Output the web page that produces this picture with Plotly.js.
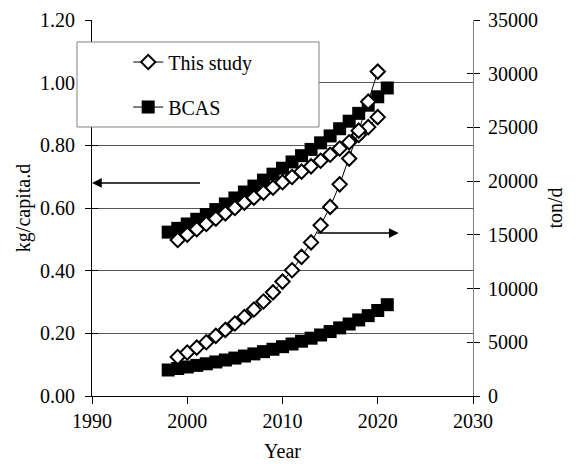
<!DOCTYPE html>
<html>
<head>
<meta charset="utf-8">
<script src="https://cdn.plot.ly/plotly-3.0.1.min.js"></script>
<style>html,body{margin:0;padding:0;background:#fff;}#chart{width:578px;height:468px;}</style>
</head>
<body>
<div id="chart"></div>
<script>
// ---- data ----
const yearsStudy = [1999,2000,2001,2002,2003,2004,2005,2006,2007,2008,2009,2010,2011,2012,2013,2014,2015,2016,2017,2018,2019,2020];
const studyKg = [0.498,0.515,0.532,0.549,0.566,0.583,0.600,0.617,0.633,0.649,0.665,0.682,0.699,0.716,0.733,0.751,0.770,0.790,0.810,0.833,0.858,0.890];
const studyTon = [3630,4050,4500,5000,5600,6150,6750,7350,8050,8800,9650,10650,11700,12950,14300,15900,17600,19700,22100,24700,27400,30200];
const yearsBcas = [1998,1999,2000,2001,2002,2003,2004,2005,2006,2007,2008,2009,2010,2011,2012,2013,2014,2015,2016,2017,2018,2019,2020,2021];
const bcasKg = [0.523,0.535,0.549,0.564,0.579,0.595,0.613,0.632,0.651,0.670,0.689,0.708,0.727,0.747,0.767,0.787,0.808,0.830,0.853,0.877,0.902,0.928,0.955,0.983];
const bcasTon = [2420,2560,2700,2850,3000,3170,3350,3530,3720,3920,4130,4350,4590,4840,5100,5380,5680,6000,6340,6700,7080,7480,7960,8500];
const seriesNames = ['This study','BCAS'];
const leftTitle = 'kg/capita.d';
const rightTitle = 'ton/d';
const xTitle = 'Year';

const FONT = 'Liberation Serif, Times New Roman, serif';
const sqMarker = {symbol:'square', size:13, color:'#000', line:{width:0}};
const diaMarker = {symbol:'diamond', size:11, color:'#fff', line:{width:2, color:'#000'}};
const ln = {color:'#000', width:1};

const traces = [
  {x:yearsBcas, y:bcasKg, yaxis:'y', mode:'lines+markers', name:seriesNames[1], line:ln, marker:sqMarker, showlegend:true, legendgroup:'b', legendrank:2},
  {x:yearsBcas, y:bcasTon, yaxis:'y2', mode:'lines+markers', name:seriesNames[1], line:ln, marker:sqMarker, showlegend:false, legendgroup:'b'},
  {x:yearsStudy, y:studyKg, yaxis:'y', mode:'lines+markers', name:seriesNames[0], line:ln, marker:diaMarker, showlegend:true, legendgroup:'a', legendrank:1},
  {x:yearsStudy, y:studyTon, yaxis:'y2', mode:'lines+markers', name:seriesNames[0], line:ln, marker:diaMarker, showlegend:false, legendgroup:'a'}
];

const layout = {
  width:578, height:468,
  margin:{l:92, r:105, t:20, b:72, pad:0},
  paper_bgcolor:'#fff', plot_bgcolor:'#fff',
  font:{family:FONT, size:20, color:'#000'},
  showlegend:true,
  legend:{x:0.095, y:0.94, xanchor:'left', yanchor:'top', bgcolor:'rgba(0,0,0,0)', borderwidth:0,
          font:{family:FONT, size:20, color:'#000'}, traceorder:'grouped', tracegroupgap:16},
  xaxis:{range:[1990,2030], dtick:10, tick0:1990, showgrid:false, zeroline:false,
         showline:true, linecolor:'#000', linewidth:1, ticks:'outside', ticklen:7, tickcolor:'#000',
         tickfont:{family:FONT, size:20}, title:{text:xTitle, font:{family:FONT, size:20}, standoff:12}},
  yaxis:{range:[0,1.2], dtick:0.2, tick0:0, tickformat:'.2f', showgrid:true, gridcolor:'#555', gridwidth:1,
         zeroline:false, showline:true, linecolor:'#000', linewidth:1, ticks:'outside', ticklen:6, tickcolor:'#000',
         ticklabelstandoff:6, tickfont:{family:FONT, size:20}, title:{text:leftTitle, font:{family:FONT, size:20}, standoff:4}},
  yaxis2:{range:[0,35000], dtick:5000, tick0:0, overlaying:'y', side:'right', anchor:'x', showgrid:false, zeroline:false,
          showline:true, linecolor:'#808080', linewidth:1, ticks:'outside', ticklen:6, tickcolor:'#000',
          ticklabelstandoff:4, tickformat:'d', tickfont:{family:FONT, size:20}, title:{text:rightTitle, font:{family:FONT, size:20}, standoff:10}},
  yaxis3:{range:[0,1.2], dtick:0.2, tick0:0, overlaying:'y', side:'left', anchor:'x', showgrid:false, zeroline:false,
          showline:false, ticks:'inside', ticklen:6, tickcolor:'#000', showticklabels:false},
  yaxis4:{range:[0,35000], dtick:5000, tick0:0, overlaying:'y', side:'right', anchor:'x', showgrid:false, zeroline:false,
          showline:false, ticks:'inside', ticklen:6, tickcolor:'#000', showticklabels:false},
  shapes:[
    {type:'rect', xref:'paper', yref:'paper', x0:-0.0394, x1:0.5958, y0:0.7154, y1:0.9415,
     fillcolor:'#fff', line:{color:'#808080', width:1}, layer:'above'}
  ],
  annotations:[
    {x:1990, y:0.68, ax:2001.5, ay:0.68, xref:'x', yref:'y', axref:'x', ayref:'y', text:'', showarrow:true,
     arrowhead:2, arrowsize:1.3, arrowwidth:1.5, arrowcolor:'#000'},
    {x:2022.2, y:0.52, ax:2013.5, ay:0.52, xref:'x', yref:'y', axref:'x', ayref:'y', text:'', showarrow:true,
     arrowhead:2, arrowsize:1.3, arrowwidth:1.5, arrowcolor:'#000'}
  ]
};

// invisible helper traces so the inside-tick overlay axes are drawn
traces.push({x:[1990], y:[0], yaxis:'y3', mode:'markers', marker:{opacity:0}, showlegend:false, hoverinfo:'skip'});
traces.push({x:[1990], y:[0], yaxis:'y4', mode:'markers', marker:{opacity:0}, showlegend:false, hoverinfo:'skip'});

Plotly.newPlot('chart', traces, layout, {displayModeBar:false, staticPlot:true});
</script>
</body>
</html>
